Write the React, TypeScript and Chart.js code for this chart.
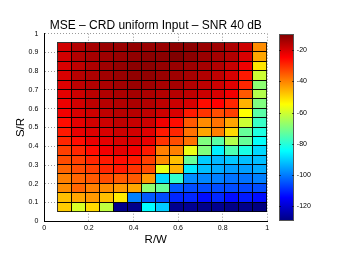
import React, { useEffect, useRef } from 'react';
import { Chart, registerables } from 'chart.js';

Chart.register(...registerables);

const TITLE = 'MSE – CRD uniform Input – SNR 40 dB';
const X_LABEL = 'R/W';
const Y_LABEL = 'S/R';

// cell edges (R/W columns, S/R rows)
const rwEdges = [0.0625, 0.125, 0.1875, 0.25, 0.3125, 0.375, 0.4375, 0.5, 0.5625, 0.625, 0.6875, 0.75, 0.8125, 0.875, 0.9375, 1.0];
const srEdges = [0.05, 0.1, 0.15, 0.2, 0.25, 0.3, 0.35, 0.4, 0.45, 0.5, 0.55, 0.6, 0.65, 0.7, 0.75, 0.8, 0.85, 0.9, 0.95];

// MSE (dB), one row per S/R band, from S/R = 0.05 (bottom) up to 0.95 (top)
const mseRow01 = [-48.5, -59.0, -50.0, -62.0, -128.5, -128.5, -84.6, -90.6, -128.0, -127.5, -128.5, -128.0, -129.0, -128.5, -129.7];
const mseRow02 = [-47.0, -44.0, -42.5, -47.0, -52.1, -99.6, -104.2, -105.7, -110.2, -110.2, -113.2, -110.2, -113.2, -111.7, -113.2];
const mseRow03 = [-41.0, -36.4, -39.5, -41.0, -42.5, -44.0, -68.0, -72.6, -104.2, -105.7, -105.7, -105.7, -105.7, -106.3, -105.7];
const mseRow04 = [-39.5, -36.4, -34.9, -33.4, -34.9, -34.9, -42.5, -89.1, -78.6, -98.1, -98.7, -99.6, -101.2, -101.2, -99.6];
const mseRow05 = [-36.4, -33.4, -31.9, -28.9, -27.4, -30.4, -33.4, -56.9, -45.5, -87.0, -92.1, -94.5, -96.0, -96.0, -94.5];
const mseRow06 = [-33.4, -31.9, -28.9, -27.4, -25.9, -27.4, -31.9, -41.0, -47.0, -72.6, -90.6, -93.0, -91.2, -92.1, -92.1];
const mseRow07 = [-31.9, -28.9, -25.9, -22.9, -21.4, -22.9, -27.4, -39.5, -39.5, -56.9, -69.5, -86.1, -75.6, -81.6, -89.1];
const mseRow08 = [-28.9, -25.9, -22.0, -21.4, -19.9, -19.9, -22.0, -30.4, -33.4, -37.9, -69.5, -74.1, -63.5, -72.6, -84.0];
const mseRow09 = [-27.4, -22.0, -20.5, -19.9, -18.4, -19.0, -20.8, -27.4, -28.9, -37.9, -44.0, -39.5, -50.0, -72.6, -81.0];
const mseRow10 = [-25.9, -21.4, -19.0, -18.4, -16.9, -17.8, -18.4, -22.9, -25.9, -34.9, -41.0, -37.9, -44.0, -60.5, -78.0];
const mseRow11 = [-22.9, -19.9, -18.4, -16.9, -16.0, -16.0, -16.9, -18.4, -19.9, -27.4, -30.4, -33.4, -31.9, -54.5, -74.1];
const mseRow12 = [-22.3, -19.0, -16.9, -16.0, -15.4, -14.8, -15.4, -16.9, -18.4, -19.9, -25.9, -24.4, -28.9, -45.5, -69.5];
const mseRow13 = [-21.4, -18.4, -16.3, -15.4, -14.5, -13.9, -14.5, -15.4, -16.0, -16.9, -18.4, -19.9, -22.9, -34.9, -63.5];
const mseRow14 = [-20.8, -16.9, -15.4, -14.5, -13.3, -12.4, -13.0, -13.9, -13.9, -15.4, -16.9, -18.4, -20.8, -28.9, -68.0];
const mseRow15 = [-19.9, -16.0, -14.8, -13.3, -12.4, -11.5, -11.5, -12.4, -13.0, -13.9, -15.4, -16.9, -19.9, -27.4, -60.5];
const mseRow16 = [-19.9, -16.9, -14.8, -13.0, -11.8, -10.9, -10.9, -11.8, -12.4, -13.0, -13.9, -15.4, -17.8, -22.9, -51.5];
const mseRow17 = [-19.0, -15.4, -13.9, -13.0, -12.4, -11.5, -10.9, -10.9, -9.4, -10.9, -12.4, -13.9, -15.4, -19.9, -44.0];
const mseRow18 = [-19.0, -15.4, -13.9, -12.4, -12.4, -11.8, -12.4, -12.4, -10.9, -10.9, -12.4, -13.0, -14.8, -18.4, -41.0];

const mseRows = [
  mseRow01, mseRow02, mseRow03, mseRow04, mseRow05, mseRow06, mseRow07, mseRow08, mseRow09,
  mseRow10, mseRow11, mseRow12, mseRow13, mseRow14, mseRow15, mseRow16, mseRow17, mseRow18,
];

const xTickValues = [0, 0.2, 0.4, 0.6, 0.8, 1];
const yTickValues = [0, 0.1, 0.2, 0.3, 0.4, 0.5, 0.6, 0.7, 0.8, 0.9, 1];
const colorbarTicks = [-120, -100, -80, -60, -40, -20];
const cMin = -129.7;
const cMax = -9.4;

const FONT = "'Liberation Sans', Arial, Helvetica, sans-serif";

function jetRGB(t: number): [number, number, number] {
  const c = (v: number) => Math.max(0, Math.min(1, v));
  const r = c(Math.min(4 * t - 1.5, -4 * t + 4.5));
  const g = c(Math.min(4 * t - 0.5, -4 * t + 3.5));
  const b = c(Math.min(4 * t + 0.5, -4 * t + 2.5));
  return [r, g, b];
}
function jet(v: number): string {
  const t = Math.max(0, Math.min(1, (v - cMin) / (cMax - cMin)));
  const [r, g, b] = jetRGB(t);
  return `rgb(${Math.round(r * 255)},${Math.round(g * 255)},${Math.round(b * 255)})`;
}

const heatPlugin = {
  id: 'heatCells',
  beforeDatasetsDraw(chart: any) {
    const { ctx } = chart;
    const xs = chart.scales.x;
    const ys = chart.scales.y;
    const cells = chart.data.datasets[0].data as any[];
    ctx.save();
    for (const c of cells) {
      const x0 = Math.round(xs.getPixelForValue(c.x0));
      const x1 = Math.round(xs.getPixelForValue(c.x1));
      const y0 = Math.round(ys.getPixelForValue(c.y0));
      const y1 = Math.round(ys.getPixelForValue(c.y1));
      ctx.fillStyle = jet(c.v);
      ctx.fillRect(x0, y1, x1 - x0, y0 - y1);
    }
    ctx.strokeStyle = 'rgba(0,0,0,0.8)';
    ctx.lineWidth = 1;
    for (const c of cells) {
      const x0 = Math.round(xs.getPixelForValue(c.x0)) + 0.5;
      const x1 = Math.round(xs.getPixelForValue(c.x1)) + 0.5;
      const y0 = Math.round(ys.getPixelForValue(c.y0)) + 0.5;
      const y1 = Math.round(ys.getPixelForValue(c.y1)) + 0.5;
      ctx.strokeRect(x0 - 1, y1 - 1, x1 - x0, y0 - y1);
    }
    ctx.restore();

    // colorbar
    const cb = chart.scales.cb;
    const area = chart.chartArea;
    const bx0 = Math.round(area.right + 12);
    const bw = 15;
    const top = Math.round(cb.getPixelForValue(cMax));
    const bot = Math.round(cb.getPixelForValue(cMin));
    const grad = ctx.createLinearGradient(0, bot, 0, top);
    const stops = [0, 0.125, 0.375, 0.625, 0.875, 1];
    for (const s of stops) {
      const [r, g, b] = jetRGB(s);
      grad.addColorStop(s, `rgb(${Math.round(r * 255)},${Math.round(g * 255)},${Math.round(b * 255)})`);
    }
    ctx.save();
    ctx.fillStyle = grad;
    ctx.fillRect(bx0, top, bw, bot - top);
    ctx.strokeStyle = '#555';
    ctx.lineWidth = 1;
    ctx.strokeRect(bx0 + 0.5, top + 0.5, bw - 1, bot - top - 1);
    ctx.strokeStyle = 'rgba(0,0,0,0.6)';
    for (const tv of colorbarTicks) {
      const py = Math.round(cb.getPixelForValue(tv)) + 0.5;
      ctx.beginPath();
      ctx.moveTo(bx0, py);
      ctx.lineTo(bx0 + 2, py);
      ctx.moveTo(bx0 + bw - 2, py);
      ctx.lineTo(bx0 + bw, py);
      ctx.stroke();
    }
    ctx.restore();
  },
};

export default function App() {
  const ref = useRef<HTMLCanvasElement | null>(null);

  useEffect(() => {
    if (!ref.current) return;
    const cells: any[] = [];
    for (let r = 0; r < mseRows.length; r++) {
      for (let c = 0; c < mseRows[r].length; c++) {
        cells.push({
          x: (rwEdges[c] + rwEdges[c + 1]) / 2,
          y: (srEdges[r] + srEdges[r + 1]) / 2,
          x0: rwEdges[c],
          x1: rwEdges[c + 1],
          y0: srEdges[r],
          y1: srEdges[r + 1],
          v: mseRows[r][c],
        });
      }
    }
    const fmt = (v: any) => String(+Number(v).toFixed(2));
    const chart = new Chart(ref.current, {
      type: 'scatter',
      data: {
        datasets: [
          {
            data: cells,
            pointRadius: 0,
            pointHoverRadius: 0,
            showLine: false,
          } as any,
        ],
      },
      options: {
        animation: false,
        responsive: false,
        devicePixelRatio: 1,
        events: [],
        layout: { padding: 0 },
        plugins: {
          legend: { display: false },
          tooltip: { enabled: false },
          title: {
            display: true,
            text: TITLE,
            fullSize: false,
            color: '#000',
            font: { family: FONT, size: 12, weight: 'normal' as any },
            padding: { top: 4, bottom: 0.6 },
          },
        },
        scales: {
          x: {
            type: 'linear',
            min: 0,
            max: 1,
            afterBuildTicks: (s: any) => {
              s.ticks = xTickValues.map((v) => ({ value: v }));
            },
            ticks: {
              callback: fmt,
              color: '#000',
              font: { family: FONT, size: 7 },
              padding: 3,
              maxRotation: 0,
            },
            grid: { color: '#9a9a9a', drawTicks: false, lineWidth: 1 },
            border: { display: true, color: '#000', dash: [1, 2] },
            title: {
              display: true,
              text: X_LABEL,
              color: '#000',
              font: { family: FONT, size: 11.5 },
              padding: { top: 0, bottom: 4 },
            },
            afterFit: (s: any) => {
              s.height = 29;
            },
          } as any,
          y: {
            type: 'linear',
            min: 0,
            max: 1,
            afterBuildTicks: (s: any) => {
              s.ticks = yTickValues.map((v) => ({ value: v }));
            },
            ticks: {
              callback: fmt,
              color: '#000',
              font: { family: FONT, size: 7 },
              padding: 6,
            },
            grid: { color: '#9a9a9a', drawTicks: false, lineWidth: 1 },
            border: { display: true, color: '#000', dash: [1, 2] },
            title: {
              display: true,
              text: Y_LABEL,
              color: '#000',
              font: { family: FONT, size: 11.5 },
              padding: { top: 14, bottom: 0 },
            },
            afterFit: (s: any) => {
              s.width = 44.3;
            },
          } as any,
          cb: {
            type: 'linear',
            position: 'right',
            min: cMin,
            max: cMax,
            afterBuildTicks: (s: any) => {
              s.ticks = colorbarTicks.map((v) => ({ value: v }));
            },
            ticks: {
              callback: (v: any) => String(v),
              color: '#000',
              font: { family: FONT, size: 7 },
              padding: 29.5,
            },
            grid: { display: false, drawTicks: false },
            border: { display: false },
            afterFit: (s: any) => {
              s.width = 71.7;
            },
          } as any,
        },
      },
      plugins: [heatPlugin],
    });
    return () => chart.destroy();
  }, []);

  return (
    <div style={{ position: 'absolute', left: 0, top: 0, width: 339, height: 255, background: '#fff' }}>
      <canvas ref={ref} width={339} height={255} style={{ width: 339, height: 255, display: 'block' }} />
    </div>
  );
}
